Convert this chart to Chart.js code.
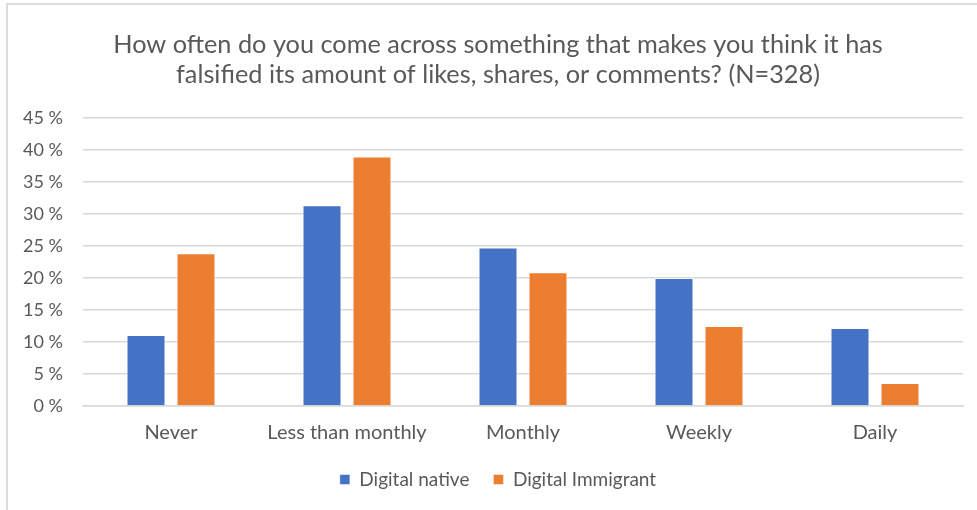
<!DOCTYPE html>
<html>
<head>
<meta charset="utf-8">
<script src="https://cdn.jsdelivr.net/npm/chart.js@4"></script>
<style>
  html, body { margin: 0; padding: 0; background: #fff; }
  #wrap { position: relative; width: 977px; height: 510px; }
  #chart { position: absolute; left: 0; top: 0; }
  #frame {
    position: absolute; left: 6px; top: 3px; right: 0; bottom: 0;
    border-left: 2px solid #dcdcdc; border-top: 2px solid #dcdcdc;
    pointer-events: none;
  }
</style>
</head>
<body>
<div id="wrap">
  <canvas id="chart" width="977" height="510"></canvas>
  <div id="frame"></div>
</div>
<script>
// Categories and the two survey groups (percent)
const categories = ['Never', 'Less than monthly', 'Monthly', 'Weekly', 'Daily'];
const nativeValues = [11.1, 31.4, 24.8, 20.0, 12.2];
const immigrantValues = [23.9, 39.0, 20.9, 12.5, 3.6];
const seriesNames = ['Digital native', 'Digital Immigrant'];
const yMin = 0, yMax = 45, yStep = 5;

const titleLines = [
    'How often do you come across something that makes you think it has',
    'falsified its amount of likes, shares, or comments? (N=328)'
];

const FONT = 'Lato, "Open Sans", sans-serif';
const TEXT = '#595959';
const GRID = '#d9d9d9';

const ctx = document.getElementById('chart').getContext('2d');
new Chart(ctx, {
    type: 'bar',
    data: {
        labels: categories,
        datasets: [
            {
                label: seriesNames[0],
                data: nativeValues,
                backgroundColor: '#4472C4',
                borderColor: 'rgba(255,255,255,0.45)',
                borderWidth: 1
            },
            {
                label: seriesNames[1],
                data: immigrantValues,
                backgroundColor: '#ED7D31',
                borderColor: 'rgba(255,255,255,0.45)',
                borderWidth: 1
            }
        ]
    },
    options: {
        responsive: false,
        animation: false,
        categoryPercentage: 0.568,
        barPercentage: 0.78,
        layout: { padding: { left: 19, right: 0, top: 30, bottom: 11 } },
        plugins: {
            title: {
                display: true,
                text: titleLines,
                color: TEXT,
                font: { family: FONT, size: 25.3, weight: 'normal', lineHeight: 1.19 },
                padding: { top: 0, bottom: 28 }
            },
            legend: {
                position: 'bottom',
                labels: {
                    color: TEXT,
                    font: { family: FONT, size: 19 },
                    boxWidth: 10,
                    boxHeight: 10,
                    padding: 24
                }
            },
            tooltip: { enabled: false }
        },
        scales: {
            x: {
                afterFit: (scale) => { scale.height = 40; },
                grid: { display: false, drawTicks: false },
                border: { display: true, color: GRID, width: 1.5 },
                ticks: {
                    color: TEXT,
                    font: { family: FONT, size: 20 },
                    padding: 15
                }
            },
            y: {
                min: yMin,
                max: yMax,
                afterFit: (scale) => { scale.width = 64; },
                grid: { color: GRID, lineWidth: 1.5, drawTicks: false },
                border: { display: false },
                ticks: {
                    stepSize: yStep,
                    color: TEXT,
                    font: { family: FONT, size: 18 },
                    padding: 20,
                    callback: (v) => v + ' %'
                }
            },
            // empty right-hand margin so the plot stops short of the edge
            yRight: {
                position: 'right',
                afterFit: (scale) => { scale.width = 14; },
                grid: { display: false, drawTicks: false },
                border: { display: false },
                ticks: { display: false }
            }
        }
    }
});
</script>
</body>
</html>
